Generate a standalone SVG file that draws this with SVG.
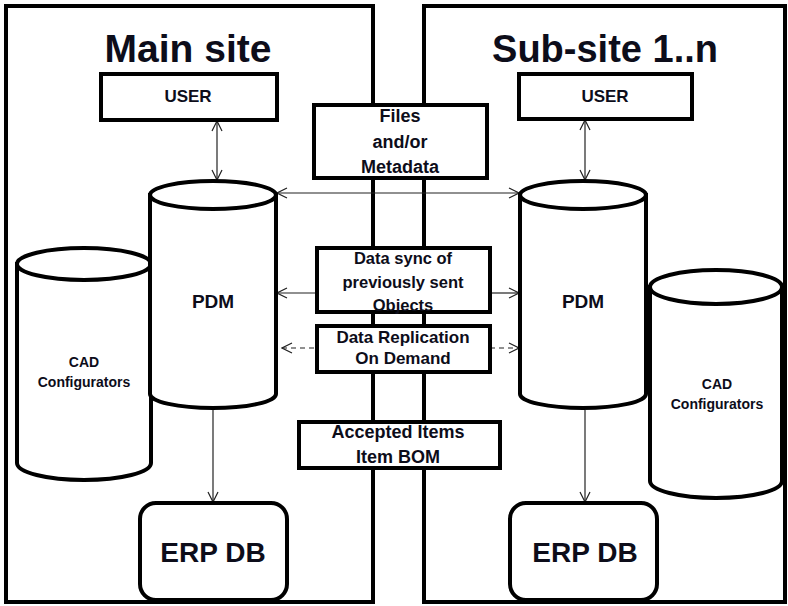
<svg xmlns="http://www.w3.org/2000/svg" width="788" height="606" viewBox="0 0 788 606">
<defs>
<style>
.frame{fill:none;stroke:#000;stroke-width:4}
.box{fill:#fff;stroke:#000;stroke-width:4}
.cyl{fill:#fff;stroke:#000;stroke-width:4}
.t{font-family:"Liberation Sans",Arial,sans-serif;font-weight:bold;fill:#0d0d1a;text-anchor:middle}
.c{fill:none;stroke:#222;stroke-width:1.2}
.d{stroke-dasharray:5 4}
</style>
<marker id="ah" viewBox="0 0 12 12" refX="11" refY="6" markerWidth="12" markerHeight="12" markerUnits="userSpaceOnUse" orient="auto-start-reverse">
<path d="M1,1 L11,6 L1,11" fill="none" stroke="#222" stroke-width="1.2"/>
</marker>
</defs>
<rect width="788" height="606" fill="#fff"/>

<g id="main-site">
<rect class="frame" x="6" y="6" width="367" height="596"/>
<text class="t" x="188" y="62" font-size="39">Main site</text>
</g>
<g id="sub-site">
<rect class="frame" x="424" y="6" width="361" height="596"/>
<text class="t" x="605" y="62" font-size="38">Sub-site 1..n</text>
</g>

<g id="connectors">
<line class="c" x1="217" y1="121" x2="217" y2="180" marker-start="url(#ah)" marker-end="url(#ah)"/>
<line class="c" x1="585" y1="120" x2="585" y2="180" marker-start="url(#ah)" marker-end="url(#ah)"/>
<line class="c" x1="277" y1="193" x2="519" y2="193" marker-start="url(#ah)" marker-end="url(#ah)"/>
<line class="c" x1="277" y1="293" x2="317" y2="293" marker-start="url(#ah)"/>
<line class="c" x1="490" y1="293" x2="519" y2="293" marker-end="url(#ah)"/>
<line class="c d" x1="282" y1="348" x2="317" y2="348" marker-start="url(#ah)"/>
<line class="c d" x1="490" y1="348" x2="519" y2="348" marker-end="url(#ah)"/>
<line class="c" x1="213" y1="410" x2="213" y2="502" marker-end="url(#ah)"/>
<line class="c" x1="585" y1="410" x2="585" y2="502" marker-end="url(#ah)"/>
</g>

<g id="user-main">
<rect class="box" x="101" y="74" width="176" height="46"/>
<text class="t" x="188" y="102" font-size="17">USER</text>
</g>
<g id="user-sub">
<rect class="box" x="519" y="74" width="173" height="45"/>
<text class="t" x="605" y="102" font-size="17">USER</text>
</g>

<g id="files-metadata">
<rect class="box" x="314" y="105" width="173" height="73"/>
<text class="t" x="400" y="122" font-size="18">Files</text>
<text class="t" x="400" y="148" font-size="18">and/or</text>
<text class="t" x="400" y="173" font-size="18">Metadata</text>
</g>

<g id="data-sync">
<rect class="box" x="317" y="248" width="173" height="64"/>
<text class="t" x="403" y="264" font-size="16.5">Data sync of</text>
<text class="t" x="403" y="288" font-size="16.5">previously sent</text>
<text class="t" x="403" y="311" font-size="16.5">Objects</text>
</g>

<g id="data-replication">
<rect class="box" x="317" y="326" width="173" height="46"/>
<text class="t" x="403" y="343" font-size="17">Data Replication</text>
<text class="t" x="403" y="364" font-size="17">On Demand</text>
</g>

<g id="accepted-items">
<rect class="box" x="299" y="422" width="201" height="46"/>
<text class="t" x="398" y="438" font-size="18">Accepted Items</text>
<text class="t" x="398" y="463" font-size="18">Item BOM</text>
</g>

<g id="cad-main">
<path class="cyl" d="M17,264 L17,463 A67,17 0 0 0 151,463 L151,264 Z"/>
<ellipse class="cyl" cx="84" cy="264" rx="67" ry="16"/>
<text class="t" x="84" y="367" font-size="14" font-weight="normal">CAD</text>
<text class="t" x="84" y="387" font-size="14" font-weight="normal">Configurators</text>
</g>

<g id="pdm-main">
<path class="cyl" d="M150,195 L150,394 A63,14 0 0 0 276,394 L276,195 Z"/>
<ellipse class="cyl" cx="213" cy="195" rx="63" ry="14"/>
<text class="t" x="213" y="308" font-size="19">PDM</text>
</g>

<g id="pdm-sub">
<path class="cyl" d="M520,195 L520,394 A63,14 0 0 0 646,394 L646,195 Z"/>
<ellipse class="cyl" cx="583" cy="195" rx="63" ry="14"/>
<text class="t" x="583" y="308" font-size="19">PDM</text>
</g>

<g id="cad-sub">
<path class="cyl" d="M650,287 L650,481 A66,17 0 0 0 782,481 L782,287 Z" stroke-width="5"/>
<ellipse class="cyl" cx="716" cy="287" rx="66" ry="17"/>
<text class="t" x="717" y="389" font-size="14" font-weight="normal">CAD</text>
<text class="t" x="717" y="409" font-size="14" font-weight="normal">Configurators</text>
</g>

<g id="erp-main">
<rect class="box" x="140" y="503" width="147" height="97" rx="16"/>
<text class="t" x="213" y="562" font-size="28">ERP DB</text>
</g>
<g id="erp-sub">
<rect class="box" x="510" y="503" width="147" height="97" rx="16"/>
<text class="t" x="585" y="562" font-size="28">ERP DB</text>
</g>
</svg>
